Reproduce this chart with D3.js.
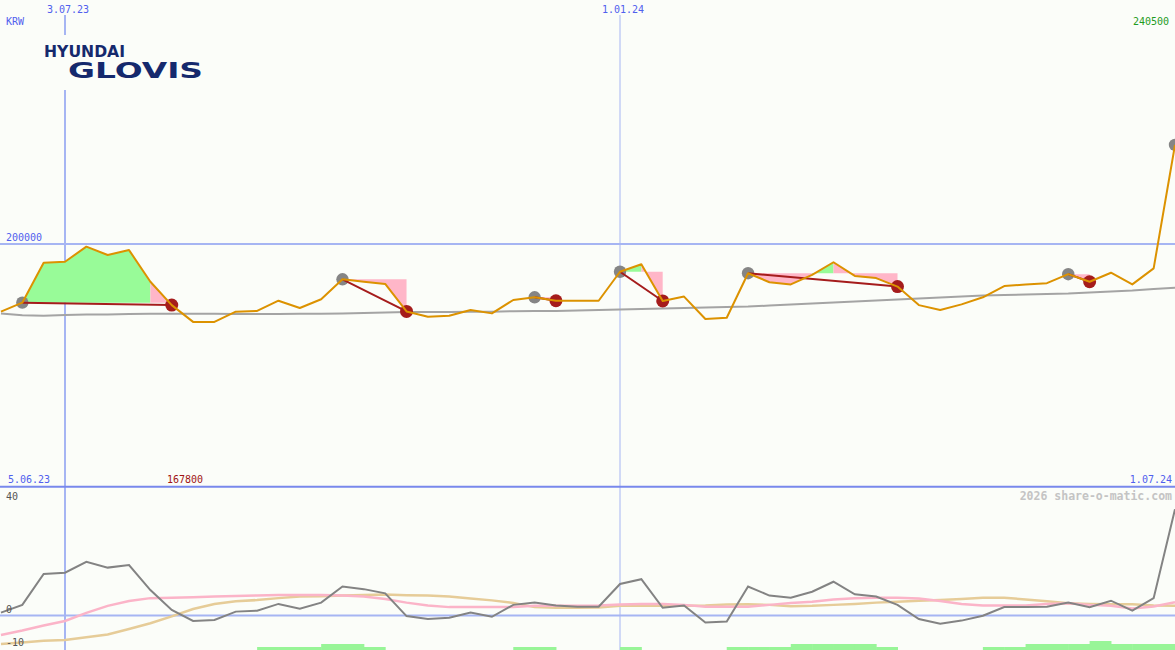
<!DOCTYPE html>
<html>
<head>
<meta charset="utf-8">
<script src="https://cdn.jsdelivr.net/npm/d3@7"></script>
<style>
  html, body { margin: 0; padding: 0; background: #fbfdf9; }
  svg { display: block; }
  text { font-family: "DejaVu Sans Mono", monospace; font-size: 10px; }
</style>
</head>
<body>
<script>
// ---------------- DATA ----------------
const dates = [
  "2023-06-12","2023-06-19","2023-06-26","2023-07-03","2023-07-10","2023-07-17","2023-07-24","2023-07-31",
  "2023-08-07","2023-08-14","2023-08-21","2023-08-28","2023-09-04","2023-09-11","2023-09-18","2023-09-25",
  "2023-10-02","2023-10-09","2023-10-16","2023-10-23","2023-10-30","2023-11-06","2023-11-13","2023-11-20",
  "2023-11-27","2023-12-04","2023-12-11","2023-12-18","2023-12-25","2024-01-01","2024-01-08","2024-01-15",
  "2024-01-22","2024-01-29","2024-02-05","2024-02-12","2024-02-19","2024-02-26","2024-03-04","2024-03-11",
  "2024-03-18","2024-03-25","2024-04-01","2024-04-08","2024-04-15","2024-04-22","2024-04-29","2024-05-06",
  "2024-05-13","2024-05-20","2024-05-27","2024-06-03","2024-06-10","2024-06-17","2024-06-24","2024-07-01"
];
const price = [
  172000,175700,192100,192500,198700,195300,197300,184300,174700,167800,167800,172000,172300,176500,173500,177100,
  185300,184300,183400,172100,169900,170300,172700,171300,176800,177900,176500,176500,176500,188400,191500,176400,
  178200,169000,169500,187800,184100,183200,187100,192300,186700,185800,182300,174700,172700,175000,177900,182500,
  183200,183700,187400,184300,188000,183200,189800,240500
];
const movingAvg = [
  171300,170500,170300,170600,170800,170800,171000,171200,171200,171200,171200,171000,171000,171000,171200,171200,
  171300,171500,171700,171900,171900,171900,172000,172000,172200,172300,172300,172500,172700,172900,173100,173300,
  173500,173700,173900,174100,174500,174900,175400,175800,176200,176600,177000,177400,177800,178200,178600,178800,
  179100,179300,179500,179900,180300,180700,181300,181800
];
const momentum = [
  0.9,3.3,12.9,13.3,16.7,14.9,15.7,7.9,1.7,-1.7,-1.4,1.2,1.5,3.6,2.1,4.0,
  9.0,8.2,6.9,-0.2,-1.1,-0.7,0.9,-0.4,3.3,4.0,3.1,2.7,2.7,9.8,11.3,2.4,
  3.1,-2.2,-1.9,9.0,6.2,5.5,7.4,10.5,6.6,5.9,3.3,-1.1,-2.6,-1.6,-0.1,2.6,
  2.6,2.7,4.0,2.6,4.6,1.5,5.4,33.1
];
const signalPink = [
  -6.1,-4.7,-3.1,-1.7,0.8,3.0,4.5,5.4,5.5,5.7,5.9,6.1,6.2,6.4,6.4,6.4,
  6.2,5.9,5.1,4.0,3.1,2.6,2.6,2.6,2.6,3.0,3.0,3.0,3.1,3.4,3.6,3.6,
  3.3,2.7,2.7,2.7,3.3,3.9,4.3,5.0,5.4,5.5,5.5,5.3,4.5,3.6,3.1,3.1,
  3.1,3.6,3.8,3.3,3.0,2.2,2.8,4.1
];
const signalTan = [
  -8.9,-8.4,-7.9,-7.6,-6.8,-5.9,-4.2,-2.4,-0.3,2.0,3.6,4.4,4.8,5.4,5.9,6.0,
  6.2,6.4,6.5,6.3,6.2,5.9,5.3,4.7,3.9,2.6,2.4,2.4,2.5,3.0,3.0,3.0,
  3.0,3.1,3.4,3.5,3.3,2.9,3.0,3.3,3.6,4.0,4.3,4.6,4.8,5.1,5.5,5.5,
  5.0,4.4,3.8,3.6,3.5,3.5,3.1,3.0
];
const volumeLevels = [
  0,0,0,0,0,0,0,0,0,0,0,0,1,1,1,2,
  2,1,0,0,0,0,0,0,1,1,0,0,0,1,0,0,
  0,0,1,1,1,2,2,2,2,1,0,0,0,0,1,1,
  2,2,2,3,2,2,2,0
];
// trades: [entry index, exit index]
const tradeEntries = [1, 16, 25, 29, 35, 50, 55];
const tradeExits   = [8, 19, 26, 31, 42, 51, null];

const dateTicks = ["2023-07-03", "2024-01-01"];
const dateTickLabels = ["3.07.23", "1.01.24"];
const dateTickWidths = [2, 1];
const priceGrid = [200000];
const priceGridLabels = ["200000"];
const lowerTicks = [40, 0, -10];
const lowerTickLabels = ["40", "0", "-10"];
const startLabel = "5.06.23";
const endLabel = "1.07.24";
const currencyLabel = "KRW";
const creditLabel = "2026 share-o-matic.com";

// ---------------- CHART ----------------
const W = 1175, H = 650;
const parse = d3.utcParse("%Y-%m-%d");
const dts = dates.map(parse);

const svg = d3.select("body").append("svg").attr("width", W).attr("height", H);
svg.append("rect").attr("width", W).attr("height", H).attr("fill", "#fbfdf9");

const x = d3.scaleUtc().domain([parse("2023-07-03"), parse("2024-07-01")]).range([65, 1175]);
const y = d3.scaleLinear().domain([100000, 300000]).range([487, 0]);
const y2 = d3.scaleLinear().domain([-10.75, 40]).range([650, 487]);
const barH = d3.scaleLinear().domain([0, 3]).range([0, 9]);

const gridLight = "#a6b5f3";
const blueText = "#5060ee";

// vertical date grid lines
dateTicks.forEach((t, k) => {
  const xv = x(parse(t));
  svg.append("line").attr("x1", xv).attr("x2", xv).attr("y1", 15).attr("y2", H)
    .attr("stroke", gridLight).attr("stroke-width", dateTickWidths[k]);
  svg.append("text").attr("x", xv + 3).attr("y", 13).attr("text-anchor", "middle")
    .attr("fill", blueText).text(dateTickLabels[k]);
});

// horizontal price grid
priceGrid.forEach((v, k) => {
  svg.append("line").attr("x1", 0).attr("x2", W).attr("y1", y(v) + 0.5).attr("y2", y(v) + 0.5)
    .attr("stroke", gridLight).attr("stroke-width", 2);
  svg.append("text").attr("x", 6).attr("y", y(v) - 2.5).attr("fill", blueText).text(priceGridLabels[k]);
});

// lower panel zero line
svg.append("line").attr("x1", 0).attr("x2", W).attr("y1", y2(0)).attr("y2", y2(0))
  .attr("stroke", gridLight).attr("stroke-width", 2);

// separator
svg.append("line").attr("x1", 0).attr("x2", W).attr("y1", 486.7).attr("y2", 486.7)
  .attr("stroke", "#7888ec").attr("stroke-width", 2);

// logo
const logo = svg.append("g");
logo.append("rect").attr("x", 40).attr("y", 35).attr("width", 170).attr("height", 55).attr("fill", "#fbfdf9");
logo.append("text").attr("x", 44).attr("y", 56.5)
  .style("font-family", "'DejaVu Sans', sans-serif").style("font-size", "15px").style("font-weight", "bold")
  .attr("textLength", 81).attr("lengthAdjust", "spacingAndGlyphs").attr("fill", "#15296d").text("HYUNDAI");
logo.append("text").attr("x", 68).attr("y", 78)
  .style("font-family", "'DejaVu Sans', sans-serif").style("font-size", "21.5px").style("font-weight", "bold")
  .attr("textLength", 135).attr("lengthAdjust", "spacingAndGlyphs").attr("fill", "#15296d").text("GLOVIS");

// ---- main panel marks ----
const main = svg.append("g");
const idx = d3.range(dates.length);

// trade fills: consecutive segments of the same colour merged into one area
tradeEntries.forEach((e, t) => {
  const xEnd = tradeExits[t];
  if (xEnd === null) return;
  const lvl = price[e];
  const area = d3.area().x(j => x(dts[j])).y0(y(lvl)).y1(j => y(price[j]));
  let runStart = e;
  let runCol = price[e + 1] > lvl ? "#98fb98" : "#ffb6c8";
  for (let i = e; i < xEnd; i++) {
    const col = price[i + 1] > lvl ? "#98fb98" : "#ffb6c8";
    const last = i === xEnd - 1;
    const nextCol = last ? null : (price[i + 2] > lvl ? "#98fb98" : "#ffb6c8");
    if (last || nextCol !== col) {
      main.append("path").attr("d", area(d3.range(runStart, i + 2))).attr("fill", col).attr("stroke", "none");
      runStart = i + 1;
    }
  }
});

// moving average
main.append("path").attr("d", d3.line().x(i => x(dts[i])).y(i => y(movingAvg[i]))(idx))
  .attr("fill", "none").attr("stroke", "#a4a4a4").attr("stroke-width", 2);

// dots
tradeEntries.forEach((e, t) => {
  main.append("circle").attr("cx", x(dts[e])).attr("cy", y(price[e])).attr("r", 6.2).attr("fill", "#858585");
  const xe = tradeExits[t];
  if (xe !== null) {
    main.append("circle").attr("cx", x(dts[xe])).attr("cy", y(price[xe])).attr("r", 6.5).attr("fill", "#a51c1c");
  }
});
// trade lines
tradeEntries.forEach((e, t) => {
  const xe = tradeExits[t];
  if (xe === null) return;
  main.append("line").attr("x1", x(dts[e])).attr("y1", y(price[e]))
    .attr("x2", x(dts[xe])).attr("y2", y(price[xe]))
    .attr("stroke", "#a51c1c").attr("stroke-width", 2);
});

// price line
main.append("path").attr("d", d3.line().x(i => x(dts[i])).y(i => y(price[i]))(idx))
  .attr("fill", "none").attr("stroke", "#dc9200").attr("stroke-width", 2).attr("stroke-linejoin", "round");

// ---- lower panel ----
const lower = svg.append("g");
svg.append("clipPath").attr("id", "lowclip").append("rect").attr("x", 0).attr("y", 488).attr("width", W).attr("height", 162);
lower.attr("clip-path", "url(#lowclip)");

volumeLevels.forEach((v, i) => {
  if (!v || i + 1 >= dts.length) return;
  const x0 = x(dts[i]), x1 = x(dts[i + 1]);
  lower.append("rect").attr("x", x0).attr("width", x1 - x0 + 0.5).attr("y", H - barH(v)).attr("height", barH(v))
    .attr("fill", "#98f598");
});

lower.append("path").attr("d", d3.line().x(i => x(dts[i])).y(i => y2(signalTan[i]))(idx))
  .attr("fill", "none").attr("stroke", "#e6cc98").attr("stroke-width", 2.5);
lower.append("path").attr("d", d3.line().x(i => x(dts[i])).y(i => y2(signalPink[i]))(idx))
  .attr("fill", "none").attr("stroke", "#fbb4c8").attr("stroke-width", 2.5);
lower.append("path").attr("d", d3.line().x(i => x(dts[i])).y(i => y2(momentum[i]))(idx))
  .attr("fill", "none").attr("stroke", "#838383").attr("stroke-width", 2);

// lower tick labels
lowerTicks.forEach((v, k) => {
  const yy = v === 40 ? y2(v) + 12.5 : y2(v) - 2;
  svg.append("text").attr("x", 6).attr("y", Math.min(yy, 646)).attr("fill", "#555").text(lowerTickLabels[k]);
});

// texts
const fmt = d3.format("d");
svg.append("text").attr("x", 6).attr("y", 25).attr("fill", blueText).text(currencyLabel);
svg.append("text").attr("x", 1169).attr("y", 25).attr("text-anchor", "end").attr("fill", "#1f9c1f").text(fmt(d3.max(price)));
svg.append("text").attr("x", 8).attr("y", 483).attr("fill", blueText).text(startLabel);
svg.append("text").attr("x", 167).attr("y", 483).attr("fill", "#a01414").text(fmt(d3.min(price)));
svg.append("text").attr("x", 1172).attr("y", 483).attr("text-anchor", "end").attr("fill", blueText).text(endLabel);
svg.append("text").attr("x", 1172).attr("y", 500).attr("text-anchor", "end").attr("fill", "#c4c4c4")
  .style("font-size", "11.5px").style("font-weight", "bold").text(creditLabel);
</script>
</body>
</html>
